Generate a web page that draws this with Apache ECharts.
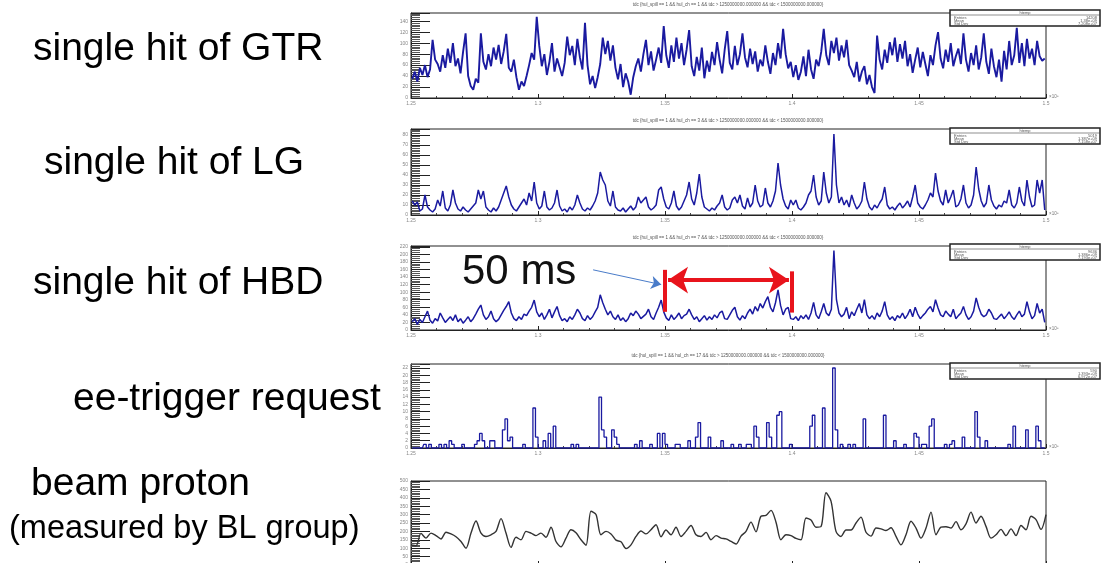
<!DOCTYPE html>
<html>
<head>
<meta charset="utf-8">
<script src="https://cdn.jsdelivr.net/npm/echarts@6/dist/echarts.min.js"></script>
<style>
html, body { margin: 0; padding: 0; background: #fff; }
#main { width: 1101px; height: 563px; }
</style>
</head>
<body>
<div id="main"></div>
<script>
// tdc range of every histogram, in units of 1e9
const xMin = 1.25
const xMax = 1.5
const xStep = 0.05

// counts per bin (250 bins between 1.25e9 and 1.5e9)
const gtrCounts = [
  35, 48, 30, 55, 42, 60, 38, 52, 106, 70,
  62, 48, 78, 55, 90, 64, 100, 58, 72, 45,
  84, 118, 40, 22, 15, 35, 28, 118, 66, 52,
  80, 58, 92, 70, 97, 62, 85, 117, 55, 48,
  70, 38, 15, 30, 22, 40, 60, 82, 70, 148,
  95, 58, 80, 42, 66, 100, 48, 72, 56, 40,
  64, 112, 78, 95, 60, 108, 74, 52, 137, 60,
  25, 40, 18, 38, 62, 110, 80, 104, 68, 96,
  55, 34, 62, 20, 45, 30, 6, 38, 58, 72,
  48, 80, 106, 60, 85, 50, 70, 92, 64, 131,
  78, 55, 96, 66, 110, 72, 100, 60, 88, 124,
  58, 40, 75, 50, 92, 36, 68, 48, 84, 60,
  102, 70, 45, 88, 122, 64, 52, 95, 60, 80,
  118, 74, 56, 90, 62, 85, 48, 70, 58, 96,
  66, 44, 82, 60, 100, 72, 126, 80, 54, 66,
  38, 60, 33, 48, 76, 40, 88, 52, 35, 70,
  58, 84, 126, 78, 60, 104, 82, 110, 68, 96,
  74, 106, 60, 50, 38, 66, 30, 48, 58, 25,
  42, 20, 9, 114, 70, 52, 88, 64, 102, 78,
  110, 66, 98, 72, 104, 58, 80, 46, 70, 92,
  56, 84, 62, 40, 78, 60, 96, 120, 72, 54,
  88, 66, 100, 58, 76, 90, 62, 118, 70, 48,
  82, 60, 96, 52, 74, 118, 66, 44, 90, 58,
  38, 70, 30, 86, 52, 104, 60, 78, 128, 64,
  100, 58, 108, 72, 90, 60, 104, 76, 68, 72
]

const lgCounts = [
  14, 10, 13, 4, 6, 20, 8, 5, 3, 6,
  15, 9, 24, 7, 4, 10, 25, 12, 6, 4,
  8, 5, 3, 6, 9, 12, 25, 16, 24, 8,
  5, 3, 7, 4, 8, 15, 22, 29, 18, 10,
  6, 4, 8, 12, 16, 10, 22, 14, 33, 12,
  6, 9, 24, 8, 5, 7, 12, 25, 9, 4,
  6, 3, 8, 5, 10, 20, 12, 6, 4, 7,
  5, 9, 14, 22, 43, 35, 30, 14, 9, 24,
  8, 5, 4, 7, 3, 6, 9, 5, 8, 18,
  12, 15, 18, 8, 5, 7, 10, 25, 28, 16,
  8, 6, 12, 24, 9, 5, 8, 14, 20, 33,
  16, 10, 22, 41, 18, 8, 6, 4, 7, 5,
  9, 12, 20, 8, 5, 7, 15, 18, 12, 20,
  9, 6, 17, 8, 12, 30, 14, 8, 10, 27,
  12, 8, 14, 24, 52, 30, 16, 9, 6, 15,
  10, 15, 7, 5, 8, 12, 20, 24, 40, 18,
  10, 14, 43, 22, 12, 18, 81, 30, 12, 18,
  10, 15, 8, 20, 12, 6, 9, 14, 33, 16,
  8, 5, 10, 7, 12, 16, 28, 10, 6, 8,
  5, 9, 12, 7, 10, 14, 8, 18, 30, 12,
  8, 6, 10, 15, 22, 18, 42, 24, 14, 10,
  25, 12, 18, 25, 8, 10, 16, 30, 12, 7,
  10, 20, 48, 26, 14, 8, 12, 30, 15, 9,
  6, 10, 8, 14, 12, 25, 10, 7, 12, 28,
  14, 9, 35, 18, 8, 10, 35, 22, 35, 5
]

const hbdCounts = [
  22, 30, 15, 28, 20, 35, 50, 26, 18, 30,
  24, 45, 32, 20, 28, 35, 25, 40, 22, 30,
  18, 26, 35, 22, 30, 42, 55, 66, 40, 28,
  35, 50, 30, 22, 28, 40, 52, 62, 75, 45,
  30, 25, 35, 28, 42, 38, 50, 60, 79, 48,
  35, 45, 28, 40, 55, 32, 48, 62, 38, 25,
  30, 22, 35, 28, 40, 55, 45, 30, 25, 38,
  28, 35, 48, 60, 93, 72, 55, 40, 50, 35,
  28, 40, 25, 32, 22, 30, 45, 38, 50, 42,
  30, 36, 42, 55, 35, 28, 45, 60, 79, 48,
  32, 25, 40, 28, 35, 45, 30, 38, 42, 55,
  40, 28, 35, 22, 30, 38, 26, 35, 28, 40,
  32, 45, 50, 30, 28, 40, 52, 60, 35, 26,
  38, 30, 45, 55, 42, 62, 50, 70, 58, 75,
  88, 60, 48, 72, 106, 65, 40, 55, 60, 30,
  28, 35, 25, 38, 30, 40, 28, 45, 73, 40,
  30, 48, 70, 45, 38, 55, 210, 80, 45, 35,
  42, 60, 30, 48, 38, 55, 70, 45, 80, 40,
  30, 38, 28, 45, 35, 50, 75, 40, 28, 35,
  25, 38, 32, 45, 30, 40, 55, 35, 60, 42,
  30, 38, 45, 55, 62, 48, 80, 58, 40, 35,
  50, 42, 35, 55, 30, 38, 45, 62, 40, 28,
  35, 50, 85, 60, 42, 35, 40, 55, 45, 30,
  28, 35, 42, 30, 38, 48, 35, 28, 40, 50,
  35, 42, 75, 48, 30, 38, 70, 45, 55, 20
]

const eeCounts = [
  0, 0, 0, 0, 0, 1, 0, 1, 0, 0,
  0, 1, 0, 1, 0, 2, 1, 0, 0, 0,
  1, 0, 0, 0, 0, 1, 2, 4, 2, 0,
  0, 2, 2, 0, 0, 0, 5, 8, 2, 3,
  0, 0, 0, 0, 1, 0, 0, 0, 11, 3,
  0, 0, 2, 0, 4, 0, 6, 0, 0, 0,
  0, 0, 0, 1, 0, 1, 0, 0, 0, 0,
  0, 0, 0, 0, 14, 5, 3, 0, 0, 5,
  3, 1, 0, 0, 0, 0, 0, 0, 1, 0,
  2, 0, 0, 0, 1, 0, 0, 4, 0, 4,
  1, 0, 0, 0, 1, 1, 0, 0, 0, 2,
  0, 0, 3, 7, 0, 0, 0, 3, 0, 0,
  0, 0, 2, 0, 0, 0, 1, 0, 0, 1,
  0, 0, 1, 1, 0, 6, 3, 0, 0, 0,
  7, 3, 0, 0, 9, 10, 0, 0, 0, 1,
  0, 0, 0, 0, 0, 0, 0, 6, 9, 0,
  0, 0, 11, 0, 0, 0, 22, 5, 0, 1,
  0, 0, 1, 0, 1, 0, 0, 0, 8, 0,
  0, 0, 0, 0, 0, 0, 9, 0, 0, 0,
  2, 0, 0, 0, 1, 0, 0, 0, 4, 3,
  0, 1, 1, 0, 6, 8, 0, 0, 0, 0,
  1, 0, 1, 2, 0, 0, 0, 3, 0, 0,
  0, 0, 10, 3, 0, 0, 2, 0, 0, 0,
  0, 0, 0, 0, 0, 1, 0, 6, 0, 0,
  0, 0, 5, 0, 0, 0, 6, 2, 0, 0
]

// beam proton intensity, evenly sampled over the same window
const beamProton = [
  119, 115, 188, 160, 190, 175, 155, 195, 185, 168,
  140, 100, 190, 262, 190, 170, 180, 200, 276, 190,
  105, 165, 150, 200, 190, 175, 190, 165, 225, 140,
  108, 160, 210, 192, 150, 118, 320, 300, 180, 200,
  185, 148, 138, 98, 120, 170, 202, 185, 210, 240,
  168, 208, 180, 225, 170, 200, 235, 180, 170, 194,
  150, 175, 160, 155, 140, 125, 172, 200, 255, 198,
  290, 295, 325, 255, 150, 180, 175, 158, 150, 280,
  268, 225, 228, 430, 380, 200, 170, 208, 208, 250,
  285, 195, 172, 220, 215, 205, 222, 170, 120, 180,
  260, 220, 160, 220, 315, 180, 225, 228, 220, 258,
  210, 245, 315, 250, 290, 230, 160, 180, 212, 175,
  215, 175, 235, 210, 290, 270, 212, 300
]

const hulChannels = [1, 3, 7, 17]
const yMaxes = [155, 86, 222, 23.1, 500]
const yIntervals = [20, 10, 20, 2, 50]
const statsEntries = ['14208', '5019', '9636', '590']
const statsMeans = ['1.38e+09', '1.387e+09', '1.386e+09', '1.393e+09']
const statsStdDevs = ['7.208e+07', '7.158e+07', '7.193e+07', '6.972e+07']

const rowLabels = ['single hit of GTR', 'single hit of LG', 'single hit of HBD', 'ee-trigger request', 'beam proton', '(measured by BL group)']

// layout
const gridTops = [13, 129, 246, 364, 481]
const gridHeights = [85, 86, 84, 84, 84]
const minorSplits = [6, 6, 4, 4, 5]
const lineWidths = [1.9, 1.5, 1.5, 1.3]
const labelPos = [[33, 63, 39], [44, 177, 39], [33, 297, 39], [73, 413, 39], [31, 498, 39], [9, 540, 32.5]]
const statsTops = [10, 128, 244, 363]
const histColor = '#1a1aa0'
const frameColor = '#222'
const FONT = '"Liberation Sans", Arial, sans-serif'

const binWidth = (xMax - xMin) / gtrCounts.length
function toBins (counts) {
  return counts.map((c, i) => [xMin + (i + 0.5) * binWidth, c])
}

let grids = []
let xAxes = []
let yAxes = []
gridTops.forEach((top, i) => {
  grids.push({
    left: 411, width: 635, top: top, height: gridHeights[i],
    outerBoundsMode: 'none', containLabel: false,
    show: true, borderColor: frameColor, borderWidth: 1
  })
  xAxes.push({
    type: 'value', gridIndex: i, min: xMin, max: xMax, interval: xStep,
    axisLine: { show: true, onZero: false, lineStyle: { color: frameColor, width: 1 } },
    axisTick: { inside: true, length: 4, lineStyle: { color: frameColor } },
    minorTick: { show: true, splitNumber: 5, length: 2, lineStyle: { color: '#444' } },
    axisLabel: { fontSize: 5, color: '#888', margin: 3, fontFamily: FONT },
    splitLine: { show: false }
  })
  yAxes.push({
    type: 'value', gridIndex: i, min: 0, max: yMaxes[i], interval: yIntervals[i],
    axisLine: { show: true, lineStyle: { color: frameColor, width: 1 } },
    axisTick: { inside: true, length: 19, lineStyle: { color: frameColor } },
    minorTick: { show: true, splitNumber: minorSplits[i], length: 9, lineStyle: { color: '#555' } },
    axisLabel: { fontSize: 5, color: '#888', margin: 3, showMaxLabel: i === 4, fontFamily: FONT },
    splitLine: { show: false }
  })
})

function histSeries (idx, counts, stepped) {
  return {
    type: 'line', xAxisIndex: idx, yAxisIndex: idx, data: toBins(counts),
    step: stepped ? 'middle' : false, showSymbol: false, symbol: 'none', animation: false, silent: true,
    lineStyle: { color: histColor, width: lineWidths[idx] }
  }
}

const red = '#e8141c'
let hbd = histSeries(2, hbdCounts, false)
// 50 ms marker between 1.35e9 and 1.40e9
hbd.markLine = {
  silent: true, animation: false, label: { show: false },
  data: [
    [{ coord: [1.35, 48], symbol: 'none', lineStyle: { color: red, width: 4, type: 'solid' } }, { coord: [1.35, 159], symbol: 'none' }],
    [{ coord: [1.40, 46], symbol: 'none', lineStyle: { color: red, width: 4, type: 'solid' } }, { coord: [1.40, 155], symbol: 'none' }],
    [{ coord: [1.3512, 132], symbol: 'arrow', symbolSize: 20, lineStyle: { color: red, width: 4, type: 'solid' } }, { coord: [1.3988, 132], symbol: 'arrow', symbolSize: 20 }],
    [{ coord: [1.3217, 159], symbol: 'none', lineStyle: { color: '#4a7cc9', width: 1, type: 'solid' } }, { coord: [1.3485, 120], symbol: 'arrow', symbolSize: 10 }]
  ]
}

const beamStep = (xMax - xMin) / (beamProton.length - 1)
let series = [
  histSeries(0, gtrCounts, false),
  histSeries(1, lgCounts, false),
  hbd,
  histSeries(3, eeCounts, true),
  {
    type: 'line', xAxisIndex: 4, yAxisIndex: 4,
    data: beamProton.map((v, i) => [xMin + i * beamStep, v]),
    smooth: 0.3, showSymbol: false, symbol: 'none', animation: false, silent: true,
    lineStyle: { color: '#333', width: 1.4 }
  }
]

let graphic = []
rowLabels.forEach((t, i) => {
  let p = labelPos[i]
  graphic.push({
    type: 'text', x: p[0], y: p[1] - 0.3465 * p[2],
    style: { text: t, font: p[2] + 'px ' + FONT, fill: '#000', align: 'left', verticalAlign: 'middle' }
  })
})
graphic.push({
  type: 'text', x: 462, y: 287 - 0.3465 * 42,
  style: { text: '50 ms', font: '42px ' + FONT, fill: '#111', align: 'left', verticalAlign: 'middle' }
})
hulChannels.forEach((ch, i) => {
  graphic.push({
    type: 'text', x: 728, y: gridTops[i] - 8,
    style: {
      text: 'tdc {hul_spill == 1 && hul_ch == ' + ch + ' && tdc > 1250000000.000000 && tdc < 1500000000.000000}',
      font: '4.5px ' + FONT, fill: '#555', align: 'center', verticalAlign: 'middle'
    }
  })
  graphic.push({
    type: 'text', x: 1049, y: gridTops[i] + gridHeights[i] - 1,
    style: { text: '×10⁹', font: '4.5px ' + FONT, fill: '#777', align: 'left', verticalAlign: 'middle' }
  })
  let t = statsTops[i]
  graphic.push({
    type: 'group', z: 100,
    children: [
      { type: 'rect', shape: { x: 950, y: t, width: 150, height: 16 }, style: { fill: '#fff', stroke: frameColor, lineWidth: 1.5 } },
      { type: 'line', shape: { x1: 950, y1: t + 5, x2: 1100, y2: t + 5 }, style: { stroke: '#444', lineWidth: 0.6 } },
      { type: 'text', x: 1025, y: t + 2.6, style: { text: 'htemp', font: '4px ' + FONT, fill: '#555', align: 'center', verticalAlign: 'middle' } },
      { type: 'text', x: 954, y: t + 7.5, style: { text: 'Entries', font: '4px ' + FONT, fill: '#555', align: 'left', verticalAlign: 'middle' } },
      { type: 'text', x: 954, y: t + 10.5, style: { text: 'Mean', font: '4px ' + FONT, fill: '#555', align: 'left', verticalAlign: 'middle' } },
      { type: 'text', x: 954, y: t + 13.5, style: { text: 'Std Dev', font: '4px ' + FONT, fill: '#555', align: 'left', verticalAlign: 'middle' } },
      { type: 'text', x: 1097, y: t + 7.5, style: { text: statsEntries[i], font: '4px ' + FONT, fill: '#555', align: 'right', verticalAlign: 'middle' } },
      { type: 'text', x: 1097, y: t + 10.5, style: { text: statsMeans[i], font: '4px ' + FONT, fill: '#555', align: 'right', verticalAlign: 'middle' } },
      { type: 'text', x: 1097, y: t + 13.5, style: { text: statsStdDevs[i], font: '4px ' + FONT, fill: '#555', align: 'right', verticalAlign: 'middle' } }
    ]
  })
})

let myChart = echarts.init(document.getElementById('main'), null, { renderer: 'canvas' })
myChart.setOption({
  animation: false,
  backgroundColor: '#fff',
  grid: grids,
  xAxis: xAxes,
  yAxis: yAxes,
  series: series,
  graphic: graphic
})
</script>
</body>
</html>
